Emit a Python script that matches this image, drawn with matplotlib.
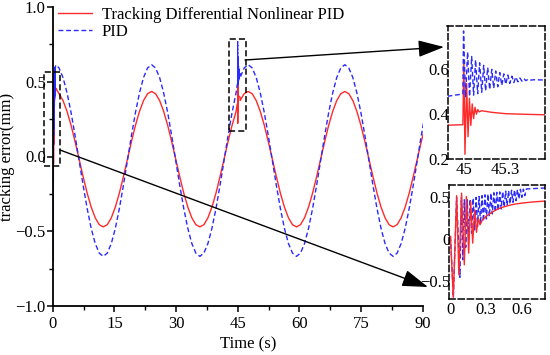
import numpy as np
import matplotlib
matplotlib.use('Agg')
import matplotlib.pyplot as plt
from matplotlib.patches import Rectangle, FancyArrowPatch

plt.rcParams['font.family'] = ['Liberation Serif', 'DejaVu Serif']
plt.rcParams['axes.unicode_minus'] = True

RED = '#ff2a2a'
BLUE = '#2a2aff'
FS = 12

series_names = ['Tracking Differential Nonlinear PID', 'PID']

# ---- main curves (on a regular time grid) ----
t_main = np.linspace(1.529, 90.633, 92)
red_main = [0.420, 0.374, 0.302, 0.209, 0.099, -0.018, -0.135, -0.245, -0.338, -0.410, -0.456, -0.471,
            -0.456, -0.410, -0.338, -0.245, -0.135, -0.018, 0.099, 0.209, 0.302, 0.374, 0.420,
            0.435, 0.420, 0.374, 0.302, 0.209, 0.099, -0.018, -0.135, -0.245, -0.338, -0.410, -0.456,
            -0.471, -0.456, -0.410, -0.338, -0.245, -0.135, -0.018, 0.099, 0.209, 0.302, 0.374, 0.420,
            0.435, 0.420, 0.374, 0.302, 0.209, 0.099, -0.018, -0.135, -0.245, -0.338, -0.410, -0.456,
            -0.471, -0.456, -0.410, -0.338, -0.245, -0.135, -0.018, 0.099, 0.209, 0.302, 0.374, 0.420,
            0.435, 0.420, 0.374, 0.302, 0.209, 0.099, -0.018, -0.135, -0.245, -0.338, -0.410, -0.456,
            -0.471, -0.456, -0.410, -0.338, -0.245, -0.135, -0.018, 0.099, 0.209]
blue_main = [0.592, 0.528, 0.426, 0.294, 0.139, -0.027, -0.193, -0.348, -0.480, -0.582, -0.646, -0.668,
             -0.646, -0.582, -0.480, -0.348, -0.193, -0.027, 0.139, 0.294, 0.426, 0.528, 0.592,
             0.614, 0.592, 0.528, 0.426, 0.294, 0.139, -0.027, -0.193, -0.348, -0.480, -0.582, -0.646,
             -0.668, -0.646, -0.582, -0.480, -0.348, -0.193, -0.027, 0.139, 0.294, 0.426, 0.528, 0.592,
             0.614, 0.592, 0.528, 0.426, 0.294, 0.139, -0.027, -0.193, -0.348, -0.480, -0.582, -0.646,
             -0.668, -0.646, -0.582, -0.480, -0.348, -0.193, -0.027, 0.139, 0.294, 0.426, 0.528, 0.592,
             0.614, 0.592, 0.528, 0.426, 0.294, 0.139, -0.027, -0.193, -0.348, -0.480, -0.582, -0.646,
             -0.668, -0.646, -0.582, -0.480, -0.348, -0.193, -0.027, 0.139, 0.294]

# ---- start-up transient (0 .. 0.8 s) ----
t0_red = [0.0, 0.024, 0.052, 0.071, 0.094, 0.117, 0.134, 0.154, 0.171, 0.188, 0.205, 0.220, 0.235,
          0.250, 0.27, 0.30, 0.35, 0.40, 0.45, 0.50, 0.55, 0.60, 0.70, 0.80]
red_0 = [0.03, -0.70, 0.52, -0.43, 0.55, -0.31, 0.51, -0.17, 0.45, -0.05, 0.35, 0.08, 0.25,
         0.17, 0.23, 0.27, 0.32, 0.36, 0.385, 0.405, 0.42, 0.43, 0.445, 0.455]
t0_blue = [0.0, 0.024, 0.052, 0.080, 0.092, 0.104, 0.117, 0.129, 0.142, 0.154, 0.167, 0.179, 0.192,
           0.204, 0.217, 0.229, 0.242, 0.254, 0.267, 0.279, 0.292, 0.304, 0.317, 0.329, 0.342,
           0.354, 0.367, 0.379, 0.392, 0.404, 0.417, 0.429, 0.442, 0.454, 0.467, 0.479, 0.492,
           0.504, 0.517, 0.529, 0.542, 0.554, 0.567, 0.579, 0.592, 0.604, 0.617, 0.629, 0.642,
           0.70, 0.80]
blue_0 = [0.03, -0.70, 0.50, -0.46, 0.50, -0.25, 0.47, -0.10, 0.47, 0.00, 0.48, 0.07, 0.49,
          0.11, 0.50, 0.15, 0.51, 0.18, 0.52, 0.21, 0.53, 0.24, 0.54, 0.27, 0.55,
          0.30, 0.555, 0.32, 0.56, 0.34, 0.565, 0.36, 0.57, 0.38, 0.575, 0.40, 0.58,
          0.42, 0.585, 0.44, 0.59, 0.46, 0.593, 0.48, 0.596, 0.50, 0.598, 0.52, 0.60,
          0.605, 0.612]

# ---- disturbance at 45 s ----
t45_red = [44.885, 44.995, 45.002, 45.010, 45.022, 45.032, 45.042, 45.052, 45.062, 45.072, 45.082,
           45.092, 45.102, 45.112, 45.13, 45.2, 45.3, 45.45, 45.583]
red_45 = [0.351, 0.353, 0.637, 0.222, 0.535, 0.300, 0.470, 0.350, 0.445, 0.380, 0.430,
          0.400, 0.420, 0.410, 0.415, 0.408, 0.402, 0.399, 0.397]
t45_blue = [44.885, 44.995, 45.000, 45.014, 45.029, 45.043, 45.058, 45.072, 45.086, 45.101, 45.115,
            45.130, 45.144, 45.158, 45.173, 45.187, 45.202, 45.216, 45.230, 45.245, 45.259, 45.274,
            45.288, 45.302, 45.317, 45.331, 45.346, 45.360, 45.374, 45.389, 45.403, 45.418, 45.432,
            45.446, 45.461, 45.475, 45.500, 45.583]
blue_45 = [0.479, 0.489, 0.768, 0.474, 0.675, 0.478, 0.655, 0.484, 0.640, 0.490, 0.627,
           0.497, 0.616, 0.503, 0.606, 0.509, 0.598, 0.515, 0.591, 0.521, 0.584, 0.527,
           0.578, 0.532, 0.573, 0.536, 0.568, 0.540, 0.564, 0.543, 0.560, 0.546, 0.557,
           0.548, 0.554, 0.550, 0.552, 0.551]

main_xticks = [0, 15, 30, 45, 60, 75, 90]
main_yticks = [-1.0, -0.5, 0.0, 0.5, 1.0]
main_ylabels = ['\u22121.0', '\u22120.5', '0.0', '0.5', '1.0']
ins45_xticks = [45, 45.3]
ins45_xlabels = ['45', '45.3']
ins45_yticks = [0.2, 0.4, 0.6]
ins45_ylabels = ['0.2', '0.4', '0.6']
ins0_xticks = [0, 0.3, 0.6]
ins0_xlabels = ['0', '0.3', '0.6']
ins0_yticks = [-0.5, 0, 0.5]
ins0_ylabels = ['\u22120.5', '0', '0.5']


def merged(*parts):
    t = np.concatenate([np.asarray(p[0], float) for p in parts])
    v = np.concatenate([np.asarray(p[1], float) for p in parts])
    o = np.argsort(t, kind='stable')
    return t[o], v[o]


W, H = 550, 355
fig = plt.figure(figsize=(W / 100, H / 100), dpi=100)


def px_axes(x0, y0, x1, y1):
    return fig.add_axes([x0 / W, (H - y1) / H, (x1 - x0) / W, (y1 - y0) / H])


ax = px_axes(52.7, 7, 422.7, 306)

tr, vr = merged((t0_red, red_0), (t_main, red_main), (t45_red, red_45))
tb, vb = merged((t0_blue, blue_0), (t_main, blue_main), (t45_blue, blue_45))
LW = 1.0
ax.plot(tr, vr, color=RED, lw=LW, label=series_names[0])
ax.plot(tb, vb, color=BLUE, lw=LW, ls=(0, (3.5, 2)), label=series_names[1])

ax.set_xlim(0, 90)
ax.set_ylim(-1.0, 1.0)
ax.set_xticks(main_xticks)
ax.set_yticks(main_yticks)
ax.set_yticklabels(main_ylabels)
ax.set_xticks(np.arange(7.5, 90, 15), minor=True)
ax.set_yticks(np.arange(-0.75, 1.0, 0.5), minor=True)
for s in ['top', 'right']:
    ax.spines[s].set_visible(False)
for s in ['left', 'bottom']:
    ax.spines[s].set_linewidth(1.3)
ax.tick_params(which='major', direction='out', length=4, width=1.1, labelsize=FS)
ax.tick_params(which='minor', direction='out', length=3, width=1.0)
ax.tick_params(axis='y', pad=1.0)
ax.tick_params(axis='x', pad=3)
ax.set_xlabel('Time (s)', fontsize=FS)
ax.set_ylabel('tracking error(mm)', fontsize=FS)
ax.xaxis.set_label_coords(0.528, -0.10)
ax.yaxis.set_label_coords(-0.102, 0.5)

ax.legend(loc='upper left', bbox_to_anchor=(0.015, 1.0), frameon=False, fontsize=FS,
          handlelength=2.0, handletextpad=0.6, labelspacing=0.05, borderpad=0, borderaxespad=0)

# dashed zoom rectangles on the main axes
for (x0, x1, y0, y1) in [(-2.04, 1.78, -0.062, 0.562), (42.95, 46.95, 0.171, 0.787)]:
    ax.add_patch(Rectangle((x0, y0), x1 - x0, y1 - y0, fill=False, ec='k', lw=1.1,
                           ls=(0, (4, 2)), clip_on=False, zorder=5))

# insets
ins1 = px_axes(447.5, 26, 545, 159.3)
ins1.plot(t45_red, red_45, color=RED, lw=LW)
ins1.plot(t45_blue, blue_45, color=BLUE, lw=LW, ls=(0, (3.5, 2)))
ins1.set_xlim(44.885, 45.583)
ins1.set_ylim(0.2, 0.79)
ins1.set_xticks(ins45_xticks)
ins1.set_xticklabels(ins45_xlabels)
ins1.set_yticks(ins45_yticks)
ins1.set_yticklabels(ins45_ylabels)

ins2 = px_axes(449.3, 185, 545, 299.3)
ins2.plot(t0_blue, blue_0, color=BLUE, lw=LW, ls=(0, (3.5, 2)))
ins2.plot(t0_red, red_0, color=RED, lw=LW)
ins2.set_xlim(-0.01, 0.80)
ins2.set_ylim(-0.724, 0.648)
ins2.set_xticks(ins0_xticks)
ins2.set_xticklabels(ins0_xlabels)
ins2.set_yticks(ins0_yticks)
ins2.set_yticklabels(ins0_ylabels)

for a in (ins1, ins2):
    for s in a.spines.values():
        s.set_linestyle((0, (4, 2)))
        s.set_linewidth(1.1)
    a.tick_params(length=0, labelsize=FS)
    a.tick_params(axis='y', pad=-1)
    a.tick_params(axis='x', pad=2)

# arrows (figure pixel coordinates, origin bottom-left)
arrow_kw = dict(arrowstyle='-|>,head_length=0.4,head_width=0.13', mutation_scale=40,
                lw=1.0, color='k', shrinkA=0, shrinkB=0)
fig.add_artist(FancyArrowPatch((245, H - 60), (444, H - 47), transform=None, **arrow_kw))
fig.add_artist(FancyArrowPatch((60, H - 150), (428, H - 287), transform=None, **arrow_kw))

fig.savefig('out.png', dpi=100)
